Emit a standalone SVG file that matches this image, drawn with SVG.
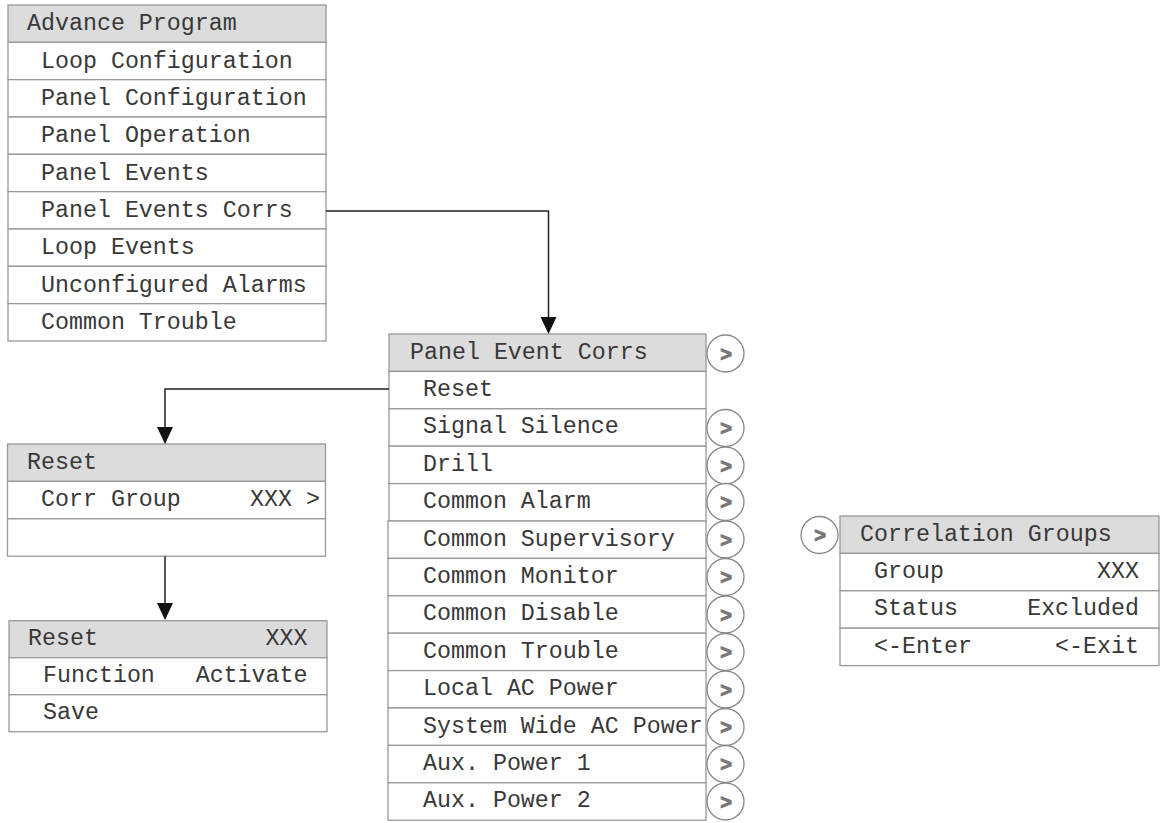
<svg xmlns="http://www.w3.org/2000/svg" width="1161" height="823" viewBox="0 0 1161 823">
<style>
.row{fill:#fff;stroke:#999;stroke-width:1.3}
.hdr{fill:#dcdcdc;stroke:#999;stroke-width:1.3}
.t{font-family:"Liberation Mono","Courier New",monospace;font-size:23.3px;fill:#383838}
.e{text-anchor:end}
.c{fill:#fff;stroke:#888;stroke-width:1.3}
.g{font-family:"Liberation Sans",Arial,sans-serif;font-size:20px;font-weight:bold;fill:#777;stroke:#777;stroke-width:0.9;text-anchor:middle}
.conn{fill:none;stroke:#222;stroke-width:1.5}
</style>
<defs>
<symbol id="more" overflow="visible"><circle class="c" cx="0" cy="0" r="18.5"/><text class="g" x="0.5" y="7">&gt;</text></symbol>
</defs>
<rect width="1161" height="823" fill="#fff"/>

<g id="advance-program">
<rect class="hdr" x="8" y="5" width="318" height="37.33"/>
<rect class="row" x="8" y="42.33" width="318" height="37.33"/>
<rect class="row" x="8" y="79.66" width="318" height="37.33"/>
<rect class="row" x="8" y="117" width="318" height="37.33"/>
<rect class="row" x="8" y="154.33" width="318" height="37.33"/>
<rect class="row" x="8" y="191.66" width="318" height="37.33"/>
<rect class="row" x="8" y="229" width="318" height="37.33"/>
<rect class="row" x="8" y="266.33" width="318" height="37.33"/>
<rect class="row" x="8" y="303.66" width="318" height="37.33"/>
<text class="t" x="27" y="30">Advance Program</text>
<text class="t" x="41" y="67.5">Loop Configuration</text>
<text class="t" x="41" y="104.8">Panel Configuration</text>
<text class="t" x="41" y="142.1">Panel Operation</text>
<text class="t" x="41" y="179.5">Panel Events</text>
<text class="t" x="41" y="216.8">Panel Events Corrs</text>
<text class="t" x="41" y="254.1">Loop Events</text>
<text class="t" x="41" y="291.5">Unconfigured Alarms</text>
<text class="t" x="41" y="328.8">Common Trouble</text>
</g>

<g id="panel-event-corrs">
<rect class="hdr" x="389" y="334" width="317" height="37.4"/>
<rect class="row" x="389" y="371.4" width="317" height="37.4"/>
<rect class="row" x="389" y="408.8" width="317" height="37.4"/>
<rect class="row" x="389" y="446.2" width="317" height="37.4"/>
<rect class="row" x="389" y="483.6" width="317" height="37.4"/>
<rect class="row" x="388" y="521" width="318" height="37.4"/>
<rect class="row" x="388" y="558.4" width="318" height="37.4"/>
<rect class="row" x="388" y="595.8" width="318" height="37.4"/>
<rect class="row" x="388" y="633.2" width="318" height="37.4"/>
<rect class="row" x="388" y="670.6" width="318" height="37.4"/>
<rect class="row" x="388" y="708" width="318" height="37.4"/>
<rect class="row" x="388" y="745.4" width="318" height="37.4"/>
<rect class="row" x="388" y="782.8" width="318" height="37.4"/>
<text class="t" x="410" y="358.5">Panel Event Corrs</text>
<text class="t" x="423" y="395.9">Reset</text>
<text class="t" x="423" y="433.3">Signal Silence</text>
<text class="t" x="423" y="470.7">Drill</text>
<text class="t" x="423" y="508.1">Common Alarm</text>
<text class="t" x="423" y="545.5">Common Supervisory</text>
<text class="t" x="423" y="582.9">Common Monitor</text>
<text class="t" x="423" y="620.3">Common Disable</text>
<text class="t" x="423" y="657.7">Common Trouble</text>
<text class="t" x="423" y="695.1">Local AC Power</text>
<text class="t" x="423" y="732.5">System Wide AC Power</text>
<text class="t" x="423" y="769.9">Aux. Power 1</text>
<text class="t" x="423" y="807.3">Aux. Power 2</text>
<use href="#more" x="725.5" y="353.5"/>
<use href="#more" x="725.5" y="428"/>
<use href="#more" x="725.5" y="465.5"/>
<use href="#more" x="725.5" y="502"/>
<use href="#more" x="725.5" y="539.5"/>
<use href="#more" x="725.5" y="577"/>
<use href="#more" x="725.5" y="614.5"/>
<use href="#more" x="725.5" y="652"/>
<use href="#more" x="725.5" y="689.5"/>
<use href="#more" x="725.5" y="727"/>
<use href="#more" x="725.5" y="764"/>
<use href="#more" x="725.5" y="801.5"/>
</g>

<g id="reset-corr-group">
<rect class="hdr" x="7.5" y="444" width="318" height="37.4"/>
<rect class="row" x="7.5" y="481.4" width="318" height="37.4"/>
<rect class="row" x="7.5" y="518.8" width="318" height="37.4"/>
<text class="t" x="27" y="468.5">Reset</text>
<text class="t" x="41" y="505.9">Corr Group</text>
<text class="t e" x="320" y="505.9">XXX &gt;</text>
</g>

<g id="reset-function">
<rect class="hdr" x="9" y="620.7" width="318" height="37"/>
<rect class="row" x="9" y="657.7" width="318" height="37"/>
<rect class="row" x="9" y="694.7" width="318" height="37"/>
<text class="t" x="28" y="645">Reset</text>
<text class="t e" x="307.5" y="645">XXX</text>
<text class="t" x="43" y="682">Function</text>
<text class="t e" x="307.5" y="682">Activate</text>
<text class="t" x="43" y="719">Save</text>
</g>

<g id="correlation-groups">
<rect class="hdr" x="840" y="516" width="319" height="37.4"/>
<rect class="row" x="840" y="553.4" width="319" height="37.4"/>
<rect class="row" x="840" y="590.8" width="319" height="37.4"/>
<rect class="row" x="840" y="628.2" width="319" height="37.4"/>
<text class="t" x="860" y="540.5">Correlation Groups</text>
<text class="t" x="874" y="577.9">Group</text>
<text class="t e" x="1139" y="577.9">XXX</text>
<text class="t" x="874" y="615.3">Status</text>
<text class="t e" x="1139" y="615.3">Excluded</text>
<text class="t" x="874" y="652.7">&lt;-Enter</text>
<text class="t e" x="1139" y="652.7">&lt;-Exit</text>
<use href="#more" x="819.5" y="535"/>
</g>

<g id="connectors">
<path class="conn" d="M326,211 H548.5 V318"/>
<path d="M540.5,317 L556.5,317 L548.5,334 Z" fill="#111"/>
<path class="conn" d="M389,389 H165 V428"/>
<path d="M157,427 L173,427 L165,444 Z" fill="#111"/>
<path class="conn" d="M165,556.2 V604"/>
<path d="M157,603 L173,603 L165,620 Z" fill="#111"/>
</g>
</svg>
